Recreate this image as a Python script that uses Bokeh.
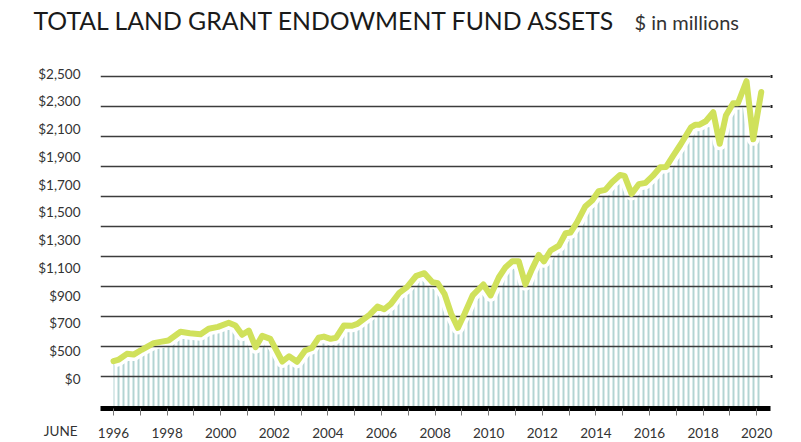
import numpy as np
from bokeh.plotting import figure
from bokeh.models import Range1d, FixedTicker, Label, LinearAxis, ColumnDataSource
from bokeh.embed import file_html
from bokeh.resources import INLINE

# ---------------- data ----------------
years = [1996.0, 1996.2, 1996.5, 1996.75, 1997.05, 1997.5, 1997.75, 1998.05, 1998.5, 1998.85,
         1999.25, 1999.55, 1999.9, 2000.3, 2000.55, 2000.8, 2001.05, 2001.3, 2001.55, 2001.85,
         2002.3, 2002.55, 2002.85, 2003.15, 2003.4, 2003.65, 2003.85, 2004.1, 2004.3, 2004.6,
         2004.9, 2005.1, 2005.55, 2005.85, 2006.1, 2006.35, 2006.65, 2006.95, 2007.3, 2007.6,
         2007.9, 2008.1, 2008.35, 2008.6, 2008.85, 2009.1, 2009.4, 2009.8, 2010.07, 2010.38,
         2010.63, 2010.88, 2011.12, 2011.37, 2011.62, 2011.87, 2012.06, 2012.31, 2012.62, 2012.87,
         2013.05, 2013.3, 2013.6, 2013.86, 2014.1, 2014.35, 2014.6, 2014.9, 2015.07, 2015.33,
         2015.6, 2015.85, 2016.12, 2016.4, 2016.62, 2016.88, 2017.16, 2017.55, 2017.7, 2017.85,
         2018.1, 2018.38, 2018.62, 2018.85, 2019.12, 2019.3, 2019.62, 2019.87, 2020.17]
assets = [602, 613, 651, 646, 678, 722, 731, 740, 798, 788,
          782, 818, 831, 858, 840, 778, 806, 695, 771, 751,
          600, 635, 598, 673, 690, 758, 766, 751, 758, 840,
          838, 851, 911, 966, 948, 984, 1055, 1095, 1171, 1188,
          1128, 1121, 1051, 918, 824, 918, 1040, 1113, 1040, 1161,
          1228, 1268, 1268, 1114, 1217, 1310, 1267, 1339, 1372, 1454,
          1459, 1528, 1632, 1672, 1734, 1743, 1794, 1842, 1836, 1716,
          1781, 1790, 1836, 1894, 1896, 1970, 2045, 2160, 2176, 2176,
          2200, 2260, 2050, 2238, 2320, 2320, 2467, 2080, 2395]

grid_values = [500, 700, 900, 1100, 1300, 1500, 1700, 1900, 2100, 2300, 2500]
y_tick_labels = ["$2,500", "$2,300", "$2,100", "$1,900", "$1,700", "$1,500",
                 "$1,300", "$1,100", "$900", "$700", "$500", "$0"]
x_label_years = list(range(1996, 2021, 2))
x_other_years = list(range(1997, 2021, 2))
month_label = "JUNE"

title_text = "TOTAL LAND GRANT ENDOWMENT FUND ASSETS"
subtitle_text = "$ in millions"

# ---------------- layout ----------------
Y_START, Y_END = 287, 2638
X_START, X_END = 1995.515, 2020.515

p = figure(width=801, height=442, output_backend="svg", toolbar_location=None,
           x_range=Range1d(X_START, X_END), y_range=Range1d(Y_START, Y_END),
           min_border_left=100, min_border_right=31, min_border_top=55, min_border_bottom=34)
p.outline_line_color = None
p.background_fill_color = "white"
p.border_fill_color = "white"

src = ColumnDataSource(dict(x=years, y=assets, base=[Y_START] * len(years)))

# hatched "bars" under the curve
p.varea(x="x", y1="base", y2="y", source=src, fill_color=None, fill_alpha=0,
        hatch_pattern="vertical_line", hatch_color="#b3d4d3", hatch_scale=5,
        hatch_weight=2, level="image")
# white halo
p.line("x", "y", source=src, line_color="white", line_width=13, line_join="round",
       level="image")
# main line
p.line("x", "y", source=src, line_color="#d0e15b", line_width=6, line_join="round",
       line_cap="round")

# grid
p.xgrid.visible = False
p.ygrid.ticker = FixedTicker(ticks=grid_values)
p.ygrid.grid_line_color = "#3c3c3c"
p.ygrid.grid_line_width = 1.6

# y axis labels (evenly spread, independent of grid)
label_pos = [int(round(v)) for v in np.linspace(2518, 484, len(y_tick_labels))]
yax = p.yaxis[0]
yax.ticker = FixedTicker(ticks=label_pos)
yax.major_label_overrides = {pos: lab for pos, lab in zip(label_pos, y_tick_labels)}
yax.axis_line_color = None
yax.major_tick_line_color = None
yax.minor_tick_line_color = None
yax.major_tick_out = 0
yax.major_tick_in = 0
yax.major_label_standoff = 20
yax.major_label_text_font = "Lato"
yax.major_label_text_font_size = "13.5px"
yax.major_label_text_color = "#333333"

# right axis: dots at grid ends (minor ticks only, no labels)
rax = LinearAxis(ticker=FixedTicker(ticks=[], minor_ticks=grid_values), axis_line_color=None,
                 major_tick_line_color=None, minor_tick_line_color="#222222",
                 minor_tick_line_width=3, minor_tick_out=2, minor_tick_in=0)
p.add_layout(rax, "right")

# x axis: labelled ticks on even years, unlabelled on odd years
xax = p.xaxis[0]
xax.ticker = FixedTicker(ticks=x_label_years, minor_ticks=x_other_years)
xax.axis_line_color = "black"
xax.axis_line_width = 5
xax.major_tick_line_color = "#777777"
xax.major_tick_line_width = 1
xax.major_tick_out = 7
xax.major_tick_in = 0
xax.minor_tick_line_color = "#777777"
xax.minor_tick_line_width = 1
xax.minor_tick_out = 7
xax.minor_tick_in = 0
xax.major_label_overrides = {yr: str(yr) for yr in x_label_years}
xax.major_label_standoff = 12
xax.major_label_text_font = "Lato"
xax.major_label_text_font_size = "13.5px"
xax.major_label_text_color = "#333333"

# titles in the top side panel
sub = Label(x=534, y=34, x_units="screen", y_units="screen",
            text=subtitle_text, text_font="Lato", text_font_size="20px",
            text_color="#333333", text_baseline="alphabetic")
main = Label(x=-67, y=11, x_units="screen", y_units="screen",
             text=title_text, text_font="Lato", text_font_size="24.8px",
             text_color="#1a1a1a", text_baseline="alphabetic")
p.add_layout(sub, "above")
p.add_layout(main, "above")

# "JUNE" caption in the left side panel, level with the year labels
june = Label(x=76, y=-22, x_units="screen", y_units="screen",
             text=month_label, text_font="Lato", text_font_size="13.5px",
             text_color="#333333", text_align="right", text_baseline="alphabetic")
p.add_layout(june, "left")

open("out.html", "w").write(file_html(p, INLINE))
